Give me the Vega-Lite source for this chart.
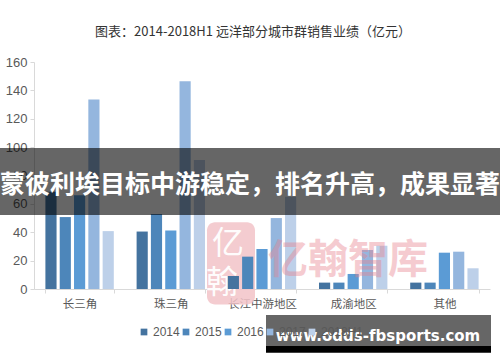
{
"$schema":"https://vega.github.io/schema/vega-lite/v6.json",
"width":456,"height":227,
"autosize":"none",
"padding":{"left":34,"top":62,"right":10,"bottom":73},
"background":"white",
"title":{"text":"图表：2014-2018H1 远洋部分城市群销售业绩（亿元）","anchor":"middle","dx":-9,"offset":17,"font":"Noto Sans CJK SC","fontSize":13,"fontWeight":"normal","color":"#333333"},
"config":{"view":{"stroke":null}},
"datasets":{
"bars":[
{"region":"长三角","year":"2014","sales":68.5},{"region":"长三角","year":"2015","sales":50.7},{"region":"长三角","year":"2016","sales":66},{"region":"长三角","year":"2017","sales":133.5},{"region":"长三角","year":"2018H1","sales":40.8},
{"region":"珠三角","year":"2014","sales":40.5},{"region":"珠三角","year":"2015","sales":52.8},{"region":"珠三角","year":"2016","sales":41.3},{"region":"珠三角","year":"2017","sales":146.5},{"region":"珠三角","year":"2018H1","sales":91},
{"region":"长江中游地区","year":"2014","sales":9.2},{"region":"长江中游地区","year":"2015","sales":22.8},{"region":"长江中游地区","year":"2016","sales":28.2},{"region":"长江中游地区","year":"2017","sales":50},{"region":"长江中游地区","year":"2018H1","sales":65},
{"region":"成渝地区","year":"2014","sales":4.5},{"region":"成渝地区","year":"2015","sales":4.5},{"region":"成渝地区","year":"2016","sales":10.6},{"region":"成渝地区","year":"2017","sales":27.5},{"region":"成渝地区","year":"2018H1","sales":30.5},
{"region":"其他","year":"2014","sales":4.5},{"region":"其他","year":"2015","sales":4.5},{"region":"其他","year":"2016","sales":25.6},{"region":"其他","year":"2017","sales":26.3},{"region":"其他","year":"2018H1","sales":14.6}
]},
"layer":[
{"data":{"values":[{"lo":173,"hi":221,"top":47,"bot":-11}]},
"mark":{"type":"rect","color":"#f2c3c8","opacity":0.85,"cornerRadius":8,"clip":false},
"encoding":{"x":{"field":"lo","type":"quantitative","scale":{"domain":[0,456]},"axis":null},"x2":{"field":"hi"},"y":{"field":"top","type":"quantitative","scale":{"domain":[0,160]},"axis":{"title":null,"values":[0,20,40,60,80,100,120,140,160],"tickCount":9,"grid":false,"labelOverlap":false,"labelFont":"Liberation Sans","labelFontSize":13,"labelColor":"#595959","labelPadding":3,"tickColor":"#d9d9d9","tickSize":4,"domainColor":"#d9d9d9"}},"y2":{"field":"bot"}}},
{"data":{"values":[{"t":"亿","px":194,"py":32},{"t":"翰","px":188,"py":4}]},
"mark":{"type":"text","font":"Noto Sans CJK SC","fontSize":32,"fontWeight":"normal","color":"white","opacity":0.95},
"encoding":{"x":{"field":"px","type":"quantitative","scale":{"domain":[0,456]},"axis":null},"y":{"field":"py","type":"quantitative","axis":null},"text":{"field":"t"}}},
{"data":{"name":"bars"},
"mark":{"type":"bar"},
"encoding":{
"x":{"field":"region","type":"nominal","sort":["长三角","珠三角","长江中游地区","成渝地区","其他"],
"scale":{"paddingInner":0.25,"paddingOuter":0.125},
"axis":{"title":null,"labelAngle":0,"labelFont":"Noto Sans CJK SC","labelFontSize":11.5,"labelColor":"#595959","labelPadding":5,"tickBand":"extent","tickColor":"#d9d9d9","tickSize":4,"domainColor":"#d9d9d9"}},
"xOffset":{"field":"year","type":"nominal","scale":{"paddingInner":0.22,"paddingOuter":0}},
"y":{"field":"sales","type":"quantitative","axis":null},
"color":{"field":"year","type":"nominal",
"scale":{"domain":["2014","2015","2016","2017","2018H1"],"range":["#44739f","#4d86ba","#5b9bd5","#94b6de","#bdd0e9"]},
"legend":{"title":null,"orient":"none","legendX":104,"legendY":264,"direction":"horizontal","symbolType":"square","symbolSize":45,"symbolOpacity":1,"labelFont":"Liberation Sans","labelFontSize":12,"labelColor":"#595959","columnPadding":0,"labelOffset":3,"zindex":0}}
}},
{"data":{"values":[{"t":"亿翰智库","px":314,"py":20}]},
"mark":{"type":"text","font":"Noto Sans CJK SC","fontSize":40,"fontWeight":"bold","color":"#e8808c","opacity":0.4},
"encoding":{"x":{"field":"px","type":"quantitative","scale":{"domain":[0,456]},"axis":null},"y":{"field":"py","type":"quantitative","axis":null},"text":{"field":"t"}}},
{"data":{"values":[{"lo":-34,"hi":466,"top":99.3,"bot":52.1},{"lo":232,"hi":457,"top":-18.3,"bot":-40.1}]},
"mark":{"type":"rect","color":"#000000","opacity":0.6,"clip":false},
"encoding":{"x":{"field":"lo","type":"quantitative","scale":{"domain":[0,456]},"axis":null},"x2":{"field":"hi"},"y":{"field":"top","type":"quantitative","axis":null},"y2":{"field":"bot"}}},
{"data":{"values":[{"lo":232,"hi":457,"top":-40.1,"bot":-45}]},
"mark":{"type":"rect","color":"#000000","clip":false},
"encoding":{"x":{"field":"lo","type":"quantitative","scale":{"domain":[0,456]},"axis":null},"x2":{"field":"hi"},"y":{"field":"top","type":"quantitative","axis":null},"y2":{"field":"bot"}}},
{"data":{"values":[{"t":"蒙彼利埃目标中游稳定，排名升高，成果显著","px":216,"py":73}]},
"mark":{"type":"text","font":"Noto Sans CJK SC","fontSize":25,"fontWeight":"bold","color":"white"},
"encoding":{"x":{"field":"px","type":"quantitative","scale":{"domain":[0,456]},"axis":null},"y":{"field":"py","type":"quantitative","axis":null},"text":{"field":"t"}}},
{"data":{"values":[{"t":"www.odds-fbsports.com","px":344,"py":-33}]},
"mark":{"type":"text","font":"DejaVu Sans","fontSize":15,"fontWeight":"bold","color":"white"},
"encoding":{"x":{"field":"px","type":"quantitative","scale":{"domain":[0,456]},"axis":null},"y":{"field":"py","type":"quantitative","axis":null},"text":{"field":"t"}}}
],
"resolve":{"scale":{"x":"independent"},"axis":{"y":"independent"}}
}
